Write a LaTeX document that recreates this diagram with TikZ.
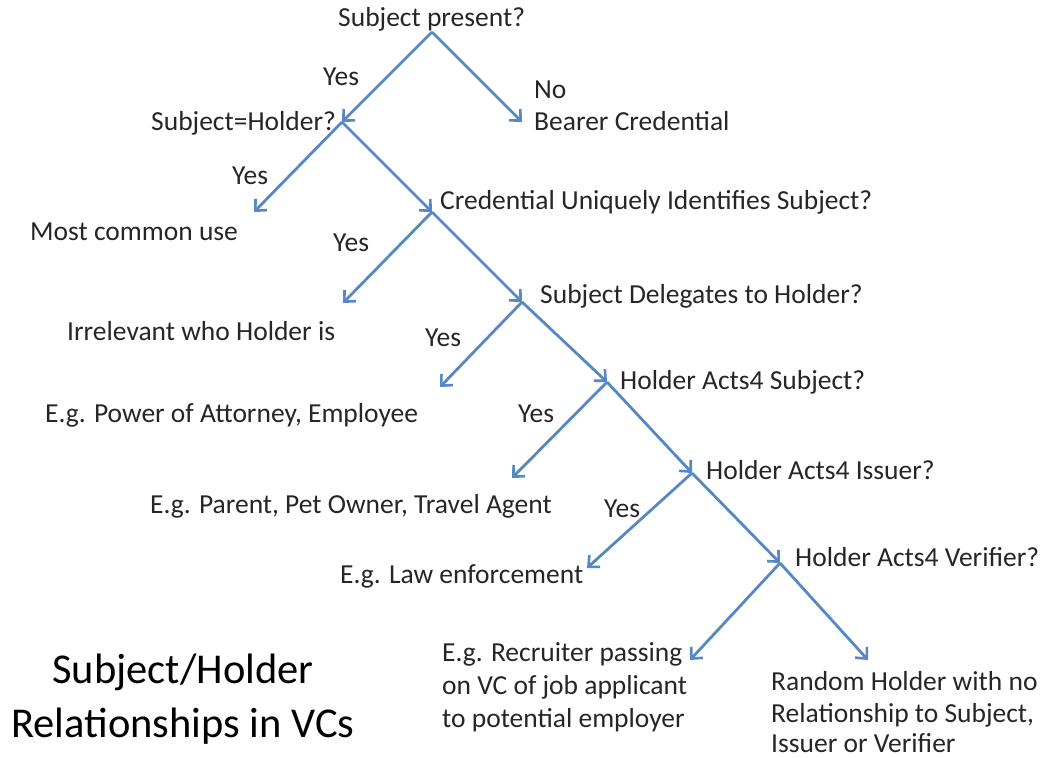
\documentclass[tikz,border=0pt]{standalone}
\usepackage{fontspec}
\setmainfont{Carlito}
\usetikzlibrary{arrows.meta}
\definecolor{lineblue}{RGB}{86,136,198}
\begin{document}
\begin{tikzpicture}[x=1pt,y=-1pt,
  txt/.style={anchor=base west,inner sep=0pt,font=\fontsize{27.5}{33}\selectfont,text=black!85},
  ttl/.style={inner sep=0pt,align=center,font=\fontsize{42.5}{52}\selectfont,text=black},
  arr/.style={draw=lineblue,line width=2.8pt,-{Straight Barb[length=8.5pt,width=16pt,line width=2.6pt]}}]
\useasboundingbox (0,0) rectangle (1043,757);
\fill[white] (0,0) rectangle (1043,757);
% texts
\node[txt] (sp) at (338,27) {Subject present?};
\node[txt] (y1) at (323,86) {Yes};
\node[txt] (no) at (534,99) {No};
\node[txt] (bc) at (534,131) {Bearer Credential};
\node[txt] (sh) at (151,131) {Subject=Holder?};
\node[txt] (y2) at (232,184) {Yes};
\node[txt] (mc) at (30,240) {Most common use};
\node[txt] (cu) at (440,209) {Credential Uniquely Identifies Subject?};
\node[txt] (y3) at (333,251) {Yes};
\node[txt] (ir) at (67,340) {Irrelevant who Holder is};
\node[txt] (sd) at (540,303) {Subject Delegates to Holder?};
\node[txt] (y4) at (425,346) {Yes};
\node[txt] (pa) at (45,422) {E.g. Power of Attorney, Employee};
\node[txt] (has) at (620,389) {Holder Acts4 Subject?};
\node[txt] (y5) at (518,422) {Yes};
\node[txt] (par) at (150,513) {E.g. Parent, Pet Owner, Travel Agent};
\node[txt] (hai) at (706,479) {Holder Acts4 Issuer?};
\node[txt] (y6) at (604,517) {Yes};
\node[txt] (law) at (340,583) {E.g. Law enforcement};
\node[txt] (hav) at (795,566) {Holder Acts4 Verifier?};
\node[txt] (rec1) at (442,661) {E.g. Recruiter passing};
\node[txt] (rec2) at (442,694) {on VC of job applicant};
\node[txt] (rec3) at (442,727) {to potential employer};
\node[txt] (rnd1) at (771,690) {Random Holder with no};
\node[txt] (rnd2) at (771,722) {Relationship to Subject,};
\node[txt] (rnd3) at (771,752) {Issuer or Verifier};
\node[ttl,anchor=base] (t1) at (183,683) {Subject/Holder};
\node[ttl,anchor=base] (t2) at (183,737) {Relationships in VCs};
% junctions and arrow ends
\coordinate (J1) at (432,32);
\coordinate (J2) at (342,122);
\coordinate (Tbc) at (522,122);
\coordinate (Tmc) at (254,212);
\coordinate (J3) at (432,212);
\coordinate (Tir) at (343,303);
\coordinate (J4) at (522,302);
\coordinate (Tpa) at (440,387);
\coordinate (J5) at (607,382);
\coordinate (Tpar) at (512,478);
\coordinate (J6) at (692,473);
\coordinate (Tlaw) at (587,568);
\coordinate (J7) at (780,563);
\coordinate (Trec) at (690,660);
\coordinate (Trnd) at (868,660);
% connectors
\draw[arr] (J1) -- (J2);
\draw[arr] (J1) -- (Tbc);
\draw[arr] (J2) -- (Tmc);
\draw[arr] (J2) -- (J3);
\draw[arr] (J3) -- (Tir);
\draw[arr] (J3) -- (J4);
\draw[arr] (J4) -- (Tpa);
\draw[arr] (J4) -- (J5);
\draw[arr] (J5) -- (Tpar);
\draw[arr] (J5) -- (J6);
\draw[arr] (J6) -- (Tlaw);
\draw[arr] (J6) -- (J7);
\draw[arr] (J7) -- (Trec);
\draw[arr] (J7) -- (Trnd);
\end{tikzpicture}
\end{document}
